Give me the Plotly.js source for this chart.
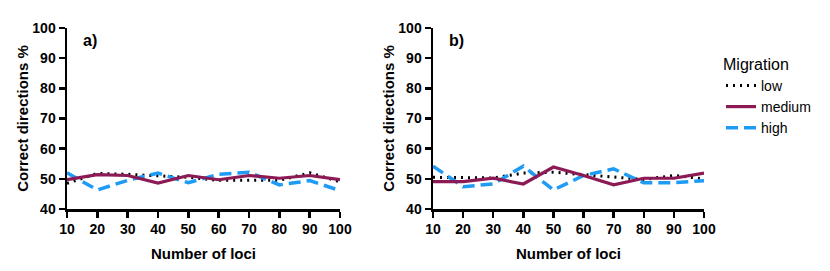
<!DOCTYPE html>
<html>
<head>
<meta charset="utf-8">
<script src="https://cdn.plot.ly/plotly-3.0.1.min.js"></script>
<style>html,body{margin:0;padding:0;background:#fff}#chart{width:830px;height:271px}</style>
</head>
<body>
<div id="chart"></div>
<script>
const loci = [10, 20, 30, 40, 50, 60, 70, 80, 90, 100];
const seriesNames = ["low", "medium", "high"];
const lowA    = [48.5, 51.8, 51.5, 51.0, 50.5, 49.5, 49.5, 49.5, 52.0, 49.0];
const mediumA = [49.7, 51.4, 51.1, 48.6, 51.1, 49.7, 51.1, 50.2, 51.1, 49.7];
const highA   = [52.0, 46.3, 49.5, 51.9, 48.7, 51.5, 52.2, 48.0, 49.4, 46.1];
const lowB    = [50.5, 50.5, 50.3, 51.9, 52.2, 51.4, 50.5, 49.8, 51.1, 50.0];
const mediumB = [49.1, 49.1, 50.2, 48.3, 53.9, 51.1, 48.0, 50.2, 50.2, 51.9];
const highB   = [54.2, 47.4, 48.3, 54.2, 46.3, 51.1, 53.3, 48.7, 48.7, 49.4];
const panelLabels = ["a)", "b)"];
const xTitle = "Number of loci";
const yTitle = "Correct directions %";
const legendTitle = "Migration";

const styles = {
  low:    {color: "#000000", width: 3, dash: "2px,5px"},
  medium: {color: "#8B1A55", width: 3.2, dash: "solid"},
  high:   {color: "#1E9BF5", width: 3.5, dash: "12px,6px"}
};

function mk(name, y, xa, ya, show) {
  return {x: loci, y: y, xaxis: xa, yaxis: ya, name: name, type: "scatter", mode: "lines",
          line: styles[name], showlegend: show, legendgroup: name, cliponaxis: false};
}
const traces = [
  mk("low", lowA, "x", "y", true), mk("high", highA, "x", "y", true), mk("medium", mediumA, "x", "y", true),
  mk("low", lowB, "x2", "y2", false), mk("high", highB, "x2", "y2", false), mk("medium", mediumB, "x2", "y2", false)
];
traces[0].legendrank = 1; traces[2].legendrank = 2; traces[1].legendrank = 3;

const F = "Liberation Sans, Arial, sans-serif";
const W = 830, H = 271;
function xax(d) {
  return {domain: d, range: [10, 100], tickvals: loci, ticks: "outside", ticklen: 6, tickwidth: 2.5,
    tickcolor: "#000", showline: true, linecolor: "#000", linewidth: 2.5, showgrid: false, zeroline: false,
    tickfont: {family: F, size: 14, color: "#000", weight: "bold"},
    title: {text: xTitle, font: {family: F, size: 15, color: "#000", weight: "bold"}, standoff: 12}};
}
function yax(anchor) {
  return {domain: [(H-209)/H, (H-28)/H], anchor: anchor, range: [40, 100], dtick: 10, ticks: "outside", ticklen: 6, tickwidth: 2.5,
    tickcolor: "#000", showline: true, linecolor: "#000", linewidth: 2.5, showgrid: false, zeroline: false,
    tickfont: {family: F, size: 14, color: "#000", weight: "bold"},
    title: {text: yTitle, font: {family: F, size: 15, color: "#000", weight: "bold"}, standoff: 0}};
}
const layout = {
  width: W, height: H, margin: {l: 0, r: 0, t: 0, b: 0},
  paper_bgcolor: "#fff", plot_bgcolor: "#fff",
  xaxis: Object.assign(xax([67/W, 340/W]), {anchor: "y"}),
  yaxis: yax("x"),
  xaxis2: Object.assign(xax([433/W, 704/W]), {anchor: "y2"}),
  yaxis2: yax("x2"),
  showlegend: true,
  legend: {x: 721/W, y: (H-49)/H, xanchor: "left", yanchor: "top", itemwidth: 30, tracegroupgap: 0,
    font: {family: F, size: 14, color: "#000"},
    title: {text: legendTitle, font: {family: F, size: 16, color: "#000"}}},
  annotations: [
    {text: panelLabels[0], xref: "x domain", yref: "y domain", x: 0.05, y: 0.99, xanchor: "left", yanchor: "top", showarrow: false,
     font: {family: F, size: 16, color: "#000", weight: "bold"}},
    {text: panelLabels[1], xref: "x2 domain", yref: "y2 domain", x: 0.05, y: 0.99, xanchor: "left", yanchor: "top", showarrow: false,
     font: {family: F, size: 16, color: "#000", weight: "bold"}}
  ]
};
Plotly.newPlot("chart", traces, layout, {displayModeBar: false, staticPlot: true});
</script>
</body>
</html>
